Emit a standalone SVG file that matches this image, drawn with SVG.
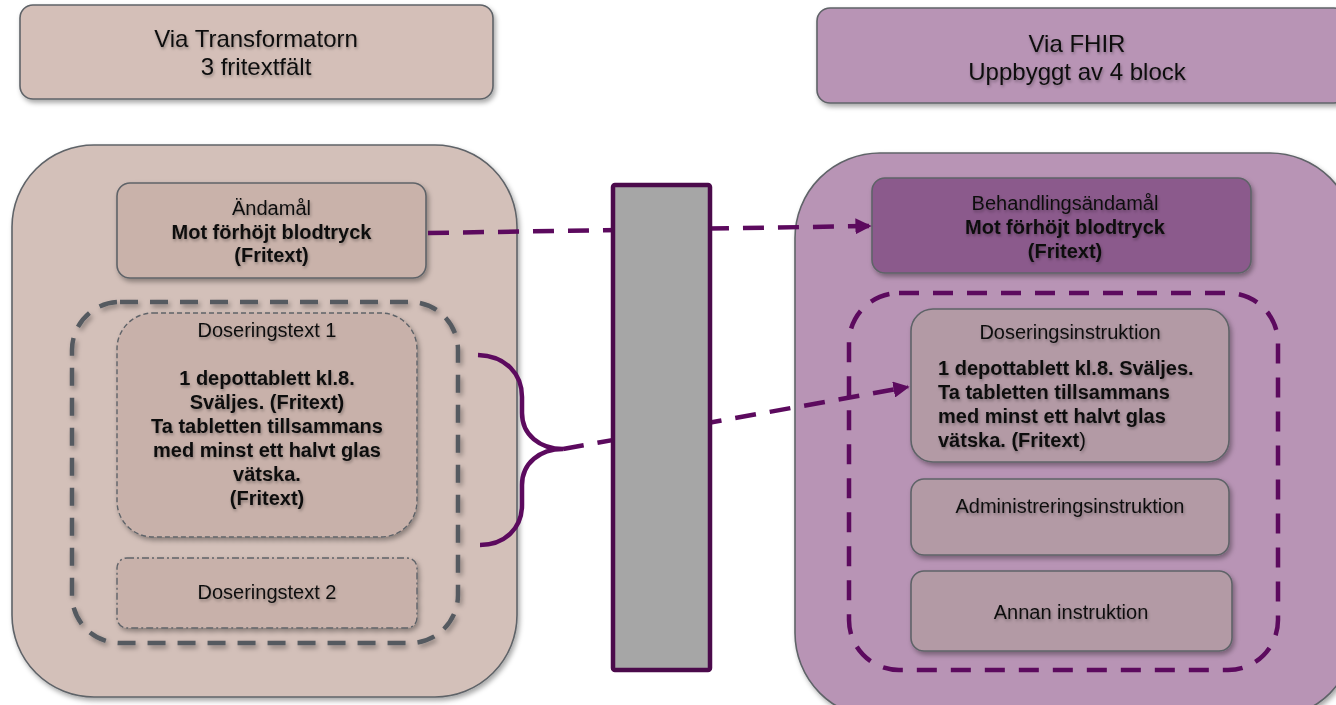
<svg xmlns="http://www.w3.org/2000/svg" width="1336" height="705" viewBox="0 0 1336 705">
<defs>
<filter id="sh" x="-10%" y="-10%" width="125%" height="130%">
<feDropShadow dx="2" dy="3" stdDeviation="2.5" flood-color="#000" flood-opacity="0.35"/>
</filter>
<filter id="tsh" x="-5%" y="-20%" width="110%" height="150%">
<feDropShadow dx="1" dy="2" stdDeviation="1.5" flood-color="#000" flood-opacity="0.3"/>
</filter>
<marker id="arr" viewBox="0 0 10 10" refX="9" refY="5" markerWidth="3.6" markerHeight="3.6" orient="auto" markerUnits="strokeWidth">
<path d="M0,0 L10,5 L0,10 Z" fill="#5c0a5e"/>
</marker>
</defs>
<style>
.box{stroke:#5f6368;stroke-width:1.6;filter:url(#sh)}
.t{font-family:"Liberation Sans",Arial,sans-serif;font-size:20px;fill:#111;text-anchor:middle;filter:url(#tsh)}
.h{font-size:24px}
.b{font-weight:bold}
.l{text-anchor:start}
.conn{fill:none;stroke:#5c0a5e;stroke-width:4.5}
.dash{stroke-dasharray:21 14}
</style>

<g id="header-left">
<rect class="box" x="20" y="5" width="473" height="94" rx="13" fill="#d4bfb8"/>
<text class="t h" x="256" y="47">Via Transformatorn</text>
<text class="t h" x="256" y="75">3 fritextfält</text>
</g>
<g id="header-right">
<rect class="box" x="817" y="8" width="530" height="95" rx="13" fill="#b894b5"/>
<text class="t h" x="1077" y="52">Via FHIR</text>
<text class="t h" x="1077" y="80">Uppbyggt av 4 block</text>
</g>

<g id="container-left">
<rect class="box" x="12" y="145" width="505" height="552" rx="82" fill="#d3c0b9"/>
</g>
<g id="container-right">
<rect class="box" x="795" y="153" width="560" height="565" rx="85" fill="#b894b5"/>
</g>

<g id="andamal">
<rect class="box" x="117" y="183" width="309" height="95" rx="13" fill="#c9b2aa"/>
<text class="t" x="271.5" y="215">Ändamål</text>
<text class="t b" x="271.5" y="239">Mot förhöjt blodtryck</text>
<text class="t b" x="271.5" y="262">(Fritext)</text>
</g>

<g id="doseringstext-group">
<rect x="72" y="302" width="386" height="341" rx="48" fill="none" stroke="#555a60" stroke-width="4.5" stroke-dasharray="18 12" filter="url(#sh)"/>
</g>

<g id="doseringstext1">
<rect x="117" y="313" width="300" height="224" rx="36" fill="#c8b1aa" stroke="#5f6368" stroke-width="1.4" stroke-dasharray="5 3" filter="url(#sh)"/>
<text class="t" x="267" y="337">Doseringstext 1</text>
<text class="t b" x="267" y="385">1 depottablett kl.8.</text>
<text class="t b" x="267" y="409">Sväljes. (Fritext)</text>
<text class="t b" x="267" y="433">Ta tabletten tillsammans</text>
<text class="t b" x="267" y="457">med minst ett halvt glas</text>
<text class="t b" x="267" y="481">vätska.</text>
<text class="t b" x="267" y="505">(Fritext)</text>
</g>

<g id="doseringstext2">
<rect x="117" y="558" width="300" height="70" rx="10" fill="#c8b1aa" stroke="#5f6368" stroke-width="1.4" stroke-dasharray="7 3 2 3" filter="url(#sh)"/>
<text class="t" x="267" y="599">Doseringstext 2</text>
</g>

<g id="behandlingsandamal">
<rect class="box" x="872" y="178" width="379" height="95" rx="13" fill="#8b5a8c"/>
<text class="t" x="1065" y="210">Behandlingsändamål</text>
<text class="t b" x="1065" y="234">Mot förhöjt blodtryck</text>
<text class="t b" x="1065" y="258">(Fritext)</text>
</g>

<g id="fhir-dosage-group">
<rect x="849" y="293" width="429" height="377" rx="50" fill="none" stroke="#5c0a5e" stroke-width="4.5" stroke-dasharray="20 14"/>
</g>

<g id="doseringsinstruktion">
<rect class="box" x="911" y="309" width="318" height="153" rx="22" fill="#b39aa5"/>
<text class="t" x="1070" y="339">Doseringsinstruktion</text>
<text class="t b l" x="938" y="375">1 depottablett kl.8. Sväljes.</text>
<text class="t b l" x="938" y="399">Ta tabletten tillsammans</text>
<text class="t b l" x="938" y="423">med minst ett halvt glas</text>
<text class="t b l" x="938" y="447">vätska. (Fritext<tspan font-weight="normal">)</tspan></text>
</g>

<g id="administreringsinstruktion">
<rect class="box" x="911" y="479" width="318" height="76" rx="13" fill="#b39aa5"/>
<text class="t" x="1070" y="513">Administreringsinstruktion</text>
</g>

<g id="annan-instruktion">
<rect class="box" x="911" y="571" width="321" height="80" rx="13" fill="#b39aa5"/>
<text class="t" x="1071" y="619">Annan instruktion</text>
</g>

<g id="connectors">
<path class="conn dash" d="M428,233 L870,226" marker-end="url(#arr)"/>
<path class="conn" d="M478,355 C506,356 522,374 522,397 L522,413 C522,435 540,449 563,449 C540,449 522,463 522,485 L522,505 C522,528 505,545 480,545"/>
<path class="conn dash" d="M563,449 L908,387" marker-end="url(#arr)"/>
</g>

<g id="barrier">
<rect x="613" y="185" width="97" height="485" rx="2" fill="#a6a6a6" stroke="#4b0a4b" stroke-width="4.5"/>
</g>
</svg>
